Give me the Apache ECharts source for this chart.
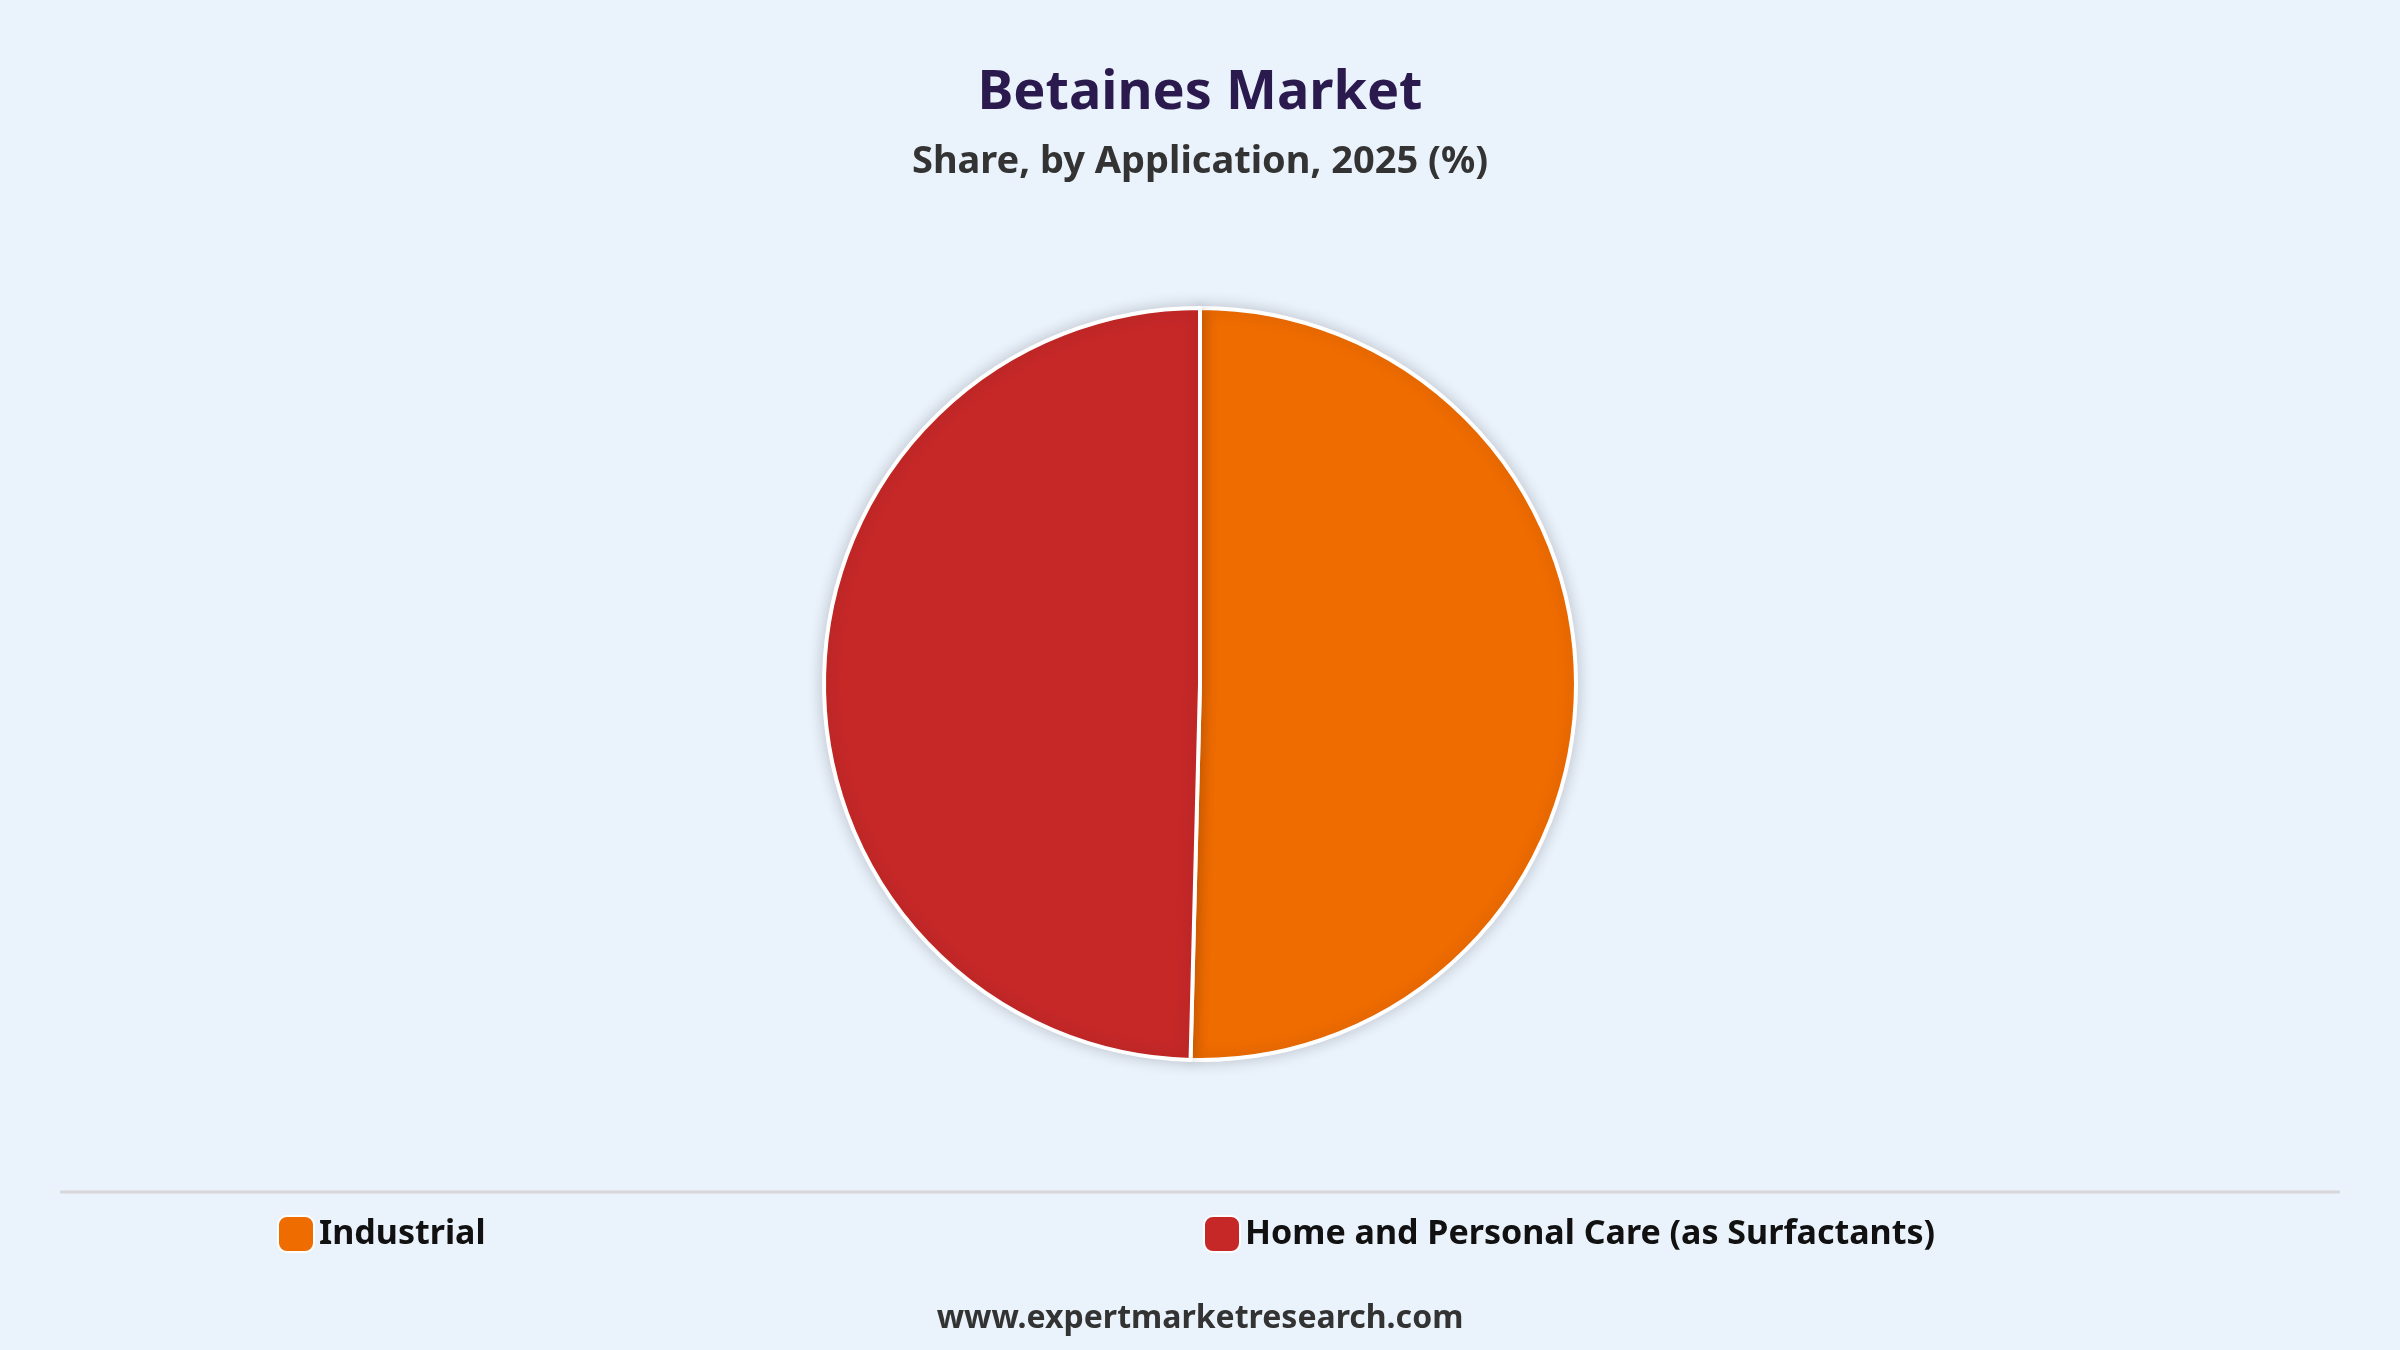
<!DOCTYPE html>
<html><head><meta charset="utf-8">
<script src="https://cdn.jsdelivr.net/npm/echarts@6/dist/echarts.min.js"></script>
<style>html,body{margin:0;padding:0;background:#EAF2FB}#c{width:2400px;height:1350px}</style>
</head><body><div id="c"></div>
<script>
const categories = ["Industrial", "Home and Personal Care (as Surfactants)"];
const values = [50.4, 49.6];
const colors = ["#EF6C00", "#C62828"];
const font = "'Noto Sans', 'Open Sans', sans-serif";
const chart = echarts.init(document.getElementById('c'));
chart.setOption({
  backgroundColor: '#EAF2FB',
  title: [
    {text: 'Betaines Market', left: 'center', top: 62,
     textStyle: {fontFamily: font, fontSize: 54, fontWeight: 'bold', color: '#2A1A4E'}},
    {text: 'Share, by Application, 2025 (%)', left: 'center', top: 138,
     textStyle: {fontFamily: font, fontSize: 38, fontWeight: 'bold', color: '#333'}},
    {text: 'www.expertmarketresearch.com', left: 'center', top: 1298,
     textStyle: {fontFamily: font, fontSize: 32, fontWeight: 'bold', color: '#333'}}
  ],
  legend: [
    {data: [categories[0]], left: 272, top: 1210, itemWidth: 36, itemHeight: 36, icon: 'roundRect',
     textStyle: {fontFamily: font, fontSize: 34, fontWeight: 'bold', color: '#111'}},
    {data: [categories[1]], left: 1198, top: 1210, itemWidth: 36, itemHeight: 36, icon: 'roundRect',
     textStyle: {fontFamily: font, fontSize: 34, fontWeight: 'bold', color: '#111'}}
  ],
  graphic: [{type: 'line', shape: {x1: 60, y1: 1192, x2: 2340, y2: 1192},
             style: {stroke: '#D8D8D8', lineWidth: 3}}],
  series: [{
    type: 'pie', center: [1200, 684], radius: [0, 376], startAngle: 90, clockwise: true,
    label: {show: false}, labelLine: {show: false},
    itemStyle: {borderColor: '#fff', borderWidth: 4, shadowBlur: 16, shadowColor: 'rgba(0,0,0,0.18)'},
    data: categories.map((n, i) => ({name: n, value: values[i], itemStyle: {color: colors[i]}}))
  }]
});
</script></body></html>
